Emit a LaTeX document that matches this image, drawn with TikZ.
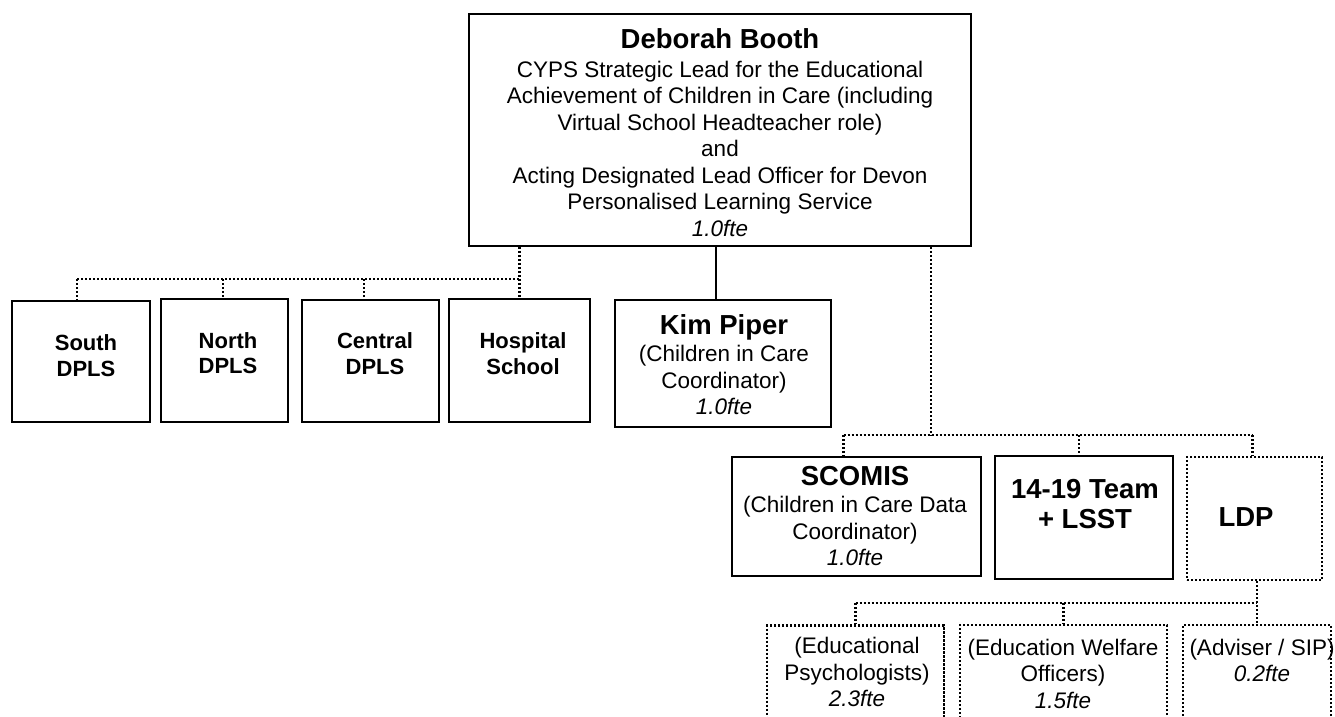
\documentclass[tikz,border=0pt]{standalone}
\usepackage{fontspec}
\setmainfont{Liberation Sans}
\newcommand\nfont{\fontsize{22.5}{26.5}\selectfont}
\newcommand\tfont{\fontsize{27.5}{30}\selectfont\bfseries}
\newcommand\bfont{\fontsize{22}{25.5}\selectfont\bfseries}
\begin{document}
\begin{tikzpicture}[x=1pt,y=-1pt,
  box/.style={draw, line width=1.7pt, inner sep=0pt},
  dotl/.style={line width=2.5pt, dash pattern=on 2.1pt off 1.9pt},
  dbox/.style={draw, dotl, inner sep=0pt},
  txt/.style={align=center, font=\nfont, inner sep=0pt},
  btxt/.style={align=center, font=\bfont, inner sep=0pt}]
\useasboundingbox (0,0) rectangle (1335,716);
\clip (0,0) rectangle (1335,716);
% boxes
\node[box, minimum width=502pt, minimum height=232pt] (top) at (720,130) {};
\node[box, minimum width=138pt, minimum height=121pt] (south) at (81,361.5) {};
\node[box, minimum width=127pt, minimum height=123pt] (north) at (224.5,360.5) {};
\node[box, minimum width=137pt, minimum height=122pt] (central) at (370.5,361) {};
\node[box, minimum width=141pt, minimum height=123pt] (hospital) at (519.5,360.5) {};
\node[box, minimum width=216pt, minimum height=127pt] (kim) at (723,363.5) {};
\node[box, minimum width=249pt, minimum height=119pt] (scomis) at (856.5,516.5) {};
\node[box, minimum width=178pt, minimum height=123pt] (team) at (1084,517.5) {};
\node[dbox, minimum width=135pt, minimum height=123pt] (ldp) at (1254.5,518.5) {};
\node[dbox, minimum width=177pt, minimum height=115pt] (edpsych) at (855.5,683) {};
\node[dbox, minimum width=207pt, minimum height=115pt] (ewo) at (1063.5,682.5) {};
\node[dbox, minimum width=148pt, minimum height=115pt] (adviser) at (1257,682.5) {};
% texts
\node[txt] (toptxt) at (720,132.5) {{\tfont Deborah Booth}\\[2pt]
  CYPS Strategic Lead for the Educational\\
  Achievement of Children in Care (including\\
  Virtual School Headteacher role)\\
  and\\
  Acting Designated Lead Officer for Devon\\
  Personalised Learning Service\\
  \textit{1.0fte}};
\node[btxt] (southtxt) at (86,355.5) {South\\DPLS};
\node[btxt] (northtxt) at (228,353) {North\\DPLS};
\node[btxt] (centraltxt) at (375,353.5) {Central\\DPLS};
\node[btxt] (hospitaltxt) at (523,353.5) {Hospital\\School};
\node[txt] (kimtxt) at (724,364.5) {{\tfont Kim Piper}\\[1pt]
  (Children in Care\\ Coordinator)\\ \textit{1.0fte}};
\node[txt] (scomistxt) at (855,516) {{\tfont SCOMIS}\\[1pt]
  (Children in Care Data\\ Coordinator)\\ \textit{1.0fte}};
\node[txt, font=\tfont] (teamtxt) at (1085,504) {14-19 Team\\+ LSST};
\node[txt, font=\tfont] (ldptxt) at (1246,517) {LDP};
\node[txt] (edpsychtxt) at (857,672) {(Educational\\ Psychologists)\\ \textit{2.3fte}};
\node[txt] (ewotxt) at (1063,673.5) {(Education Welfare\\ Officers)\\ \textit{1.5fte}};
\node[txt] (advisertxt) at (1262,660.5) {(Adviser / SIP)\\ \textit{0.2fte}};
% connector helper coordinates
\coordinate (busL) at (0,279);
\coordinate (busR) at (0,435);
\coordinate (busB) at (0,603);
\coordinate (sdrop) at ([xshift=-4pt]south.north);
\coordinate (ndrop) at ([xshift=-1.5pt]north.north);
\coordinate (cdrop) at ([xshift=-6.5pt]central.north);
\coordinate (kdrop) at ([xshift=-7pt]kim.north);
\coordinate (rsrc) at ([xshift=211pt]top.south);
\coordinate (scdrop) at ([xshift=-13pt]scomis.north);
\coordinate (tdrop) at ([xshift=-5pt]team.north);
\coordinate (ldrop) at ([xshift=-2pt]ldp.north);
% left group
\draw[dotl] (top.south -| hospital.north) -- (hospital.north);
\draw[dotl] (busL -| sdrop) -- (busL -| hospital.north);
\draw[dotl] (busL -| sdrop) -- (sdrop);
\draw[dotl] (busL -| ndrop) -- (ndrop);
\draw[dotl] (busL -| cdrop) -- (cdrop);
% Kim Piper
\draw[line width=1.4pt] (top.south -| kdrop) -- (kdrop);
% right group
\draw[dotl] (rsrc) -- (rsrc |- busR);
\draw[dotl] (busR -| scdrop) -- (busR -| ldrop);
\draw[dotl] (busR -| scdrop) -- (scdrop);
\draw[dotl] (busR -| tdrop) -- (tdrop);
\draw[dotl] (busR -| ldrop) -- (ldrop);
% LDP sub-group
\draw[dotl] (ldp.south -| adviser.north) -- (adviser.north);
\draw[dotl] (busB -| edpsych.north) -- (busB -| adviser.north);
\draw[dotl] (busB -| edpsych.north) -- (edpsych.north);
\draw[dotl] (busB -| ewo.north) -- (ewo.north);
\end{tikzpicture}
\end{document}
